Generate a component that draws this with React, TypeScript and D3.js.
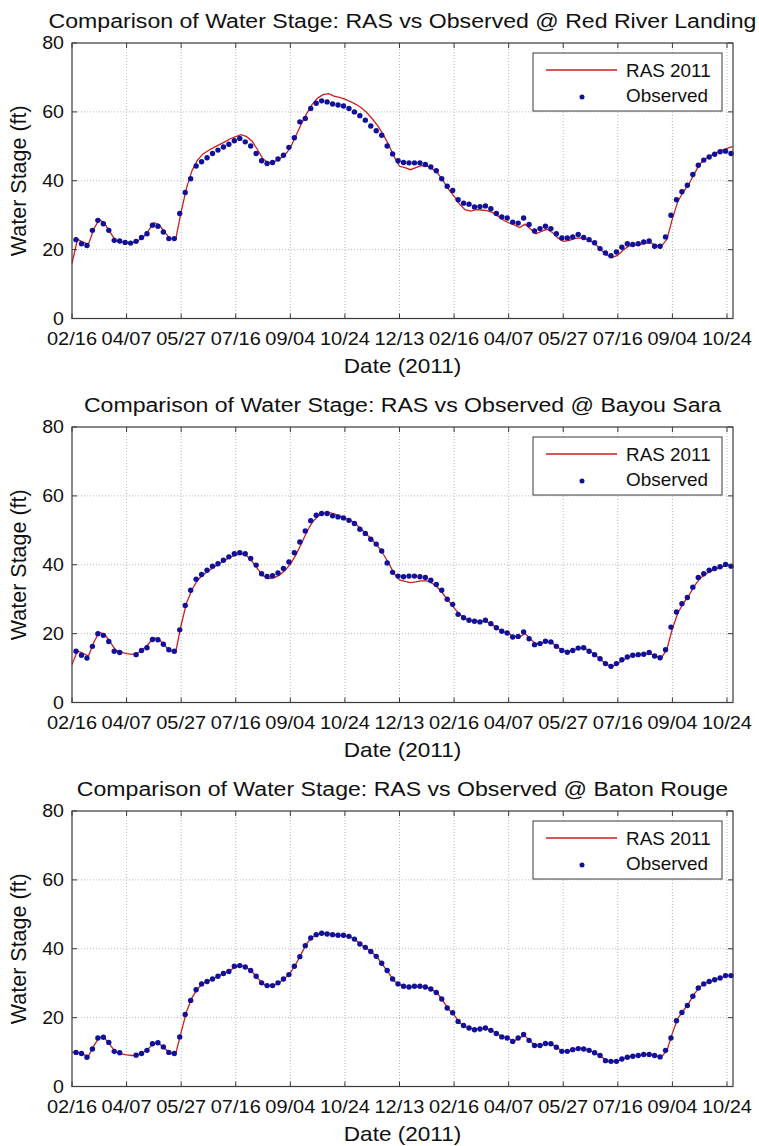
import React from "react";
import * as d3 from "d3";

// ---------- data ----------
const xTickDays = [0, 50, 100, 150, 200, 250, 300, 350, 400, 450, 500, 550, 600];
const xTickLabels = ["02/16", "04/07", "05/27", "07/16", "09/04", "10/24", "12/13", "02/16", "04/07", "05/27", "07/16", "09/04", "10/24"];
const yTicks = [0, 20, 40, 60, 80];
const xDomainEnd = 605.5;

// observed every 5 days starting day 3.7; RAS every 5 days starting day 0
const obsStartDay = 3.7;
const rasStartDay = 0;
const stepDays = 5;

const stationNames = ["Red River Landing", "Bayou Sara", "Baton Rouge"];

const obsRedRiver = [22.9, 21.7, 21.2, 25.6, 28.5, 27.5, 25.6, 22.7, 22.5, 22.1, 21.9, 22.4, 23.5, 24.6, 27.1, 26.8, 25.1, 23.2, 23.2, 30.5,
  36.6, 40.6, 44.3, 45.5, 46.7, 47.9, 48.9, 49.8, 50.6, 51.6, 52.3, 51.3, 50.1, 47.9, 45.8, 45.0, 45.3, 46.3, 47.4, 49.7,
  52.5, 57.1, 58.1, 61.0, 62.5, 63.2, 62.9, 62.3, 62.0, 61.7, 61.0, 60.0, 58.9, 57.6, 55.9, 54.5, 53.2, 50.1, 47.8, 45.8,
  45.3, 45.2, 45.2, 45.2, 44.7, 44.0, 42.9, 40.6, 38.4, 37.2, 34.5, 33.5, 33.2, 32.4, 32.5, 32.7, 31.9, 30.5, 29.5, 29.2,
  28.0, 27.7, 29.2, 27.3, 25.4, 26.1, 26.8, 26.1, 24.6, 23.4, 23.4, 23.7, 24.4, 23.5, 22.9, 22.0, 20.3, 19.0, 18.2, 19.3,
  20.7, 21.7, 21.5, 21.7, 22.2, 22.5, 21.0, 21.0, 23.7, 30.0, 34.5, 36.8, 38.7, 41.8, 44.5, 46.0, 46.9, 47.7, 48.4, 48.6, 47.9];
const rasRedRiver = [16.0, 23.0, 22.2, 21.5, 26.0, 28.8, 27.5, 25.0, 22.6, 22.2, 22.0, 22.0, 22.5, 23.5, 25.5, 27.8, 27.2, 25.0, 23.2, 23.0,
  31.0, 38.0, 43.0, 46.0, 47.8, 48.8, 49.7, 50.5, 51.3, 52.2, 52.8, 53.4, 52.8, 51.5, 49.0, 46.3, 45.2, 45.5, 46.3, 47.5,
  49.5, 53.0, 56.5, 59.5, 62.2, 64.0, 65.0, 65.3, 64.6, 64.2, 63.7, 63.0, 62.2, 61.2, 59.8, 58.0, 56.0, 53.5, 50.5, 47.0,
  44.2, 43.8, 43.2, 43.8, 44.4, 44.3, 43.5, 42.2, 40.0, 37.5, 35.5, 33.2, 31.6, 31.2, 31.6, 31.5, 31.3, 30.8, 29.8, 28.6,
  27.8, 27.2, 26.4, 27.4, 26.0, 24.6, 25.3, 25.9, 25.0, 23.4, 22.4, 22.6, 23.2, 23.4, 23.2, 22.5, 21.4, 19.8, 18.4, 17.7,
  18.4, 19.9, 21.0, 21.3, 21.5, 21.8, 22.0, 21.2, 21.0, 23.0, 29.0, 34.0, 36.8, 39.0, 42.0, 44.8, 46.3, 47.3, 48.1, 48.8,
  49.4, 49.9];

const obsBayouSara = [14.9, 13.7, 12.9, 16.3, 20.0, 19.5, 17.7, 14.9, 14.5, null, null, 13.9, 15.1, 15.9, 18.3, 18.2, 16.9, 15.3, 14.9, 21.1,
  28.2, 32.6, 35.8, 37.2, 38.4, 39.6, 40.3, 41.3, 42.3, 43.2, 43.5, 43.2, 41.8, 39.9, 37.4, 36.6, 36.8, 37.6, 38.9, 40.8,
  43.5, 46.6, 49.8, 52.8, 54.4, 54.9, 54.9, 54.2, 53.9, 53.6, 52.9, 52.0, 50.3, 49.1, 47.4, 46.0, 44.0, 40.5, 37.8, 36.7,
  36.5, 36.7, 36.7, 36.5, 36.3, 35.5, 34.3, 32.6, 30.0, 28.5, 25.6, 24.6, 23.9, 23.6, 23.4, 23.9, 22.9, 21.7, 20.7, 20.2,
  19.0, 19.2, 20.5, 18.5, 16.8, 17.1, 17.8, 17.6, 16.3, 15.1, 14.6, 15.1, 15.8, 15.9, 14.9, 13.9, 12.7, 11.3, 10.5, 11.3,
  12.4, 13.2, 13.7, 13.9, 14.0, 14.5, 13.5, 13.0, 15.3, 21.9, 26.3, 28.7, 30.5, 33.5, 36.3, 37.4, 38.4, 38.9, 39.4, 40.1, 39.6];
const rasBayouSara = [11.0, 15.0, 14.3, 13.5, 17.5, 20.4, 19.8, 17.5, 15.2, 14.6, 14.2, 14.0, 14.3, 15.3, 17.0, 18.8, 18.3, 16.5, 15.0, 14.7,
  22.5, 29.0, 32.8, 35.5, 37.0, 38.2, 39.3, 40.3, 41.3, 42.2, 42.8, 43.2, 42.6, 41.0, 38.8, 36.8, 36.0, 36.2, 37.0, 38.3,
  40.2, 42.8, 46.0, 49.5, 52.3, 54.0, 54.9, 55.2, 54.8, 54.2, 53.6, 52.9, 51.8, 50.3, 48.8, 47.2, 45.5, 43.2, 40.5, 37.5,
  35.6, 35.2, 34.8, 35.0, 35.3, 35.3, 34.6, 33.4, 31.5, 29.5, 27.5, 25.6, 24.4, 23.8, 23.6, 23.6, 23.5, 22.6, 21.5, 20.6,
  19.9, 19.2, 19.0, 20.0, 18.4, 17.0, 17.2, 17.7, 17.3, 16.0, 15.0, 14.8, 15.3, 15.8, 15.7, 14.8, 13.6, 12.3, 11.0, 10.5,
  11.3, 12.4, 13.2, 13.6, 13.9, 14.1, 14.2, 13.4, 13.0, 15.5, 21.5, 26.0, 28.8, 31.0, 33.8, 35.9, 37.2, 38.1, 38.8, 39.4,
  39.8, 40.0];

const obsBatonRouge = [9.9, 9.6, 8.5, 10.9, 14.1, 14.3, 12.8, 10.2, 9.8, null, null, 9.1, 9.6, 10.5, 12.4, 12.7, 11.5, 9.9, 9.6, 14.4,
  20.9, 25.0, 28.1, 29.8, 30.5, 31.2, 32.0, 32.8, 33.4, 34.9, 35.1, 34.7, 33.7, 32.0, 30.1, 29.3, 29.3, 30.1, 31.2, 32.5,
  34.9, 37.7, 40.9, 43.1, 44.1, 44.5, 44.3, 44.1, 43.9, 43.9, 43.6, 42.8, 41.4, 40.4, 39.2, 37.8, 35.8, 33.7, 31.2, 29.8,
  29.1, 28.9, 29.1, 29.1, 28.9, 28.3, 27.3, 25.4, 22.8, 21.4, 18.9, 17.7, 17.0, 16.5, 16.7, 17.0, 16.3, 15.4, 14.4, 14.1,
  13.1, 14.1, 15.1, 13.4, 11.9, 11.9, 12.5, 12.4, 11.4, 10.2, 10.2, 10.7, 11.0, 10.9, 10.5, 9.8, 9.0, 7.5, 7.3, 7.3,
  8.0, 8.5, 8.8, 9.0, 9.3, 9.3, 9.0, 8.6, 10.5, 14.1, 19.1, 21.5, 23.5, 26.2, 28.6, 29.8, 30.5, 31.0, 31.5, 32.2, 32.2];
const rasBatonRouge = [10.0, 9.8, 9.3, 8.8, 11.8, 14.3, 14.0, 12.0, 10.0, 9.5, 9.2, 9.0, 9.2, 9.8, 11.0, 12.6, 12.4, 11.0, 9.7, 9.5,
  15.8, 21.8, 25.8, 28.4, 29.9, 30.7, 31.4, 32.2, 33.0, 33.8, 34.7, 35.0, 34.5, 33.3, 31.5, 29.8, 29.2, 29.4, 30.2, 31.4,
  33.0, 35.5, 38.5, 41.5, 43.4, 44.2, 44.5, 44.3, 44.1, 43.9, 43.8, 43.4, 42.5, 41.1, 40.1, 38.9, 37.3, 35.2, 33.0, 30.7,
  29.6, 29.0, 28.9, 29.0, 29.0, 28.8, 28.1, 27.0, 24.8, 22.4, 20.8, 18.5, 17.4, 16.9, 16.6, 16.8, 16.9, 16.1, 15.2, 14.3,
  13.9, 13.2, 14.2, 14.7, 13.0, 11.9, 12.0, 12.5, 12.2, 11.1, 10.2, 10.3, 10.8, 11.1, 11.0, 10.3, 9.6, 8.6, 7.5, 7.3,
  7.4, 8.1, 8.6, 8.9, 9.1, 9.3, 9.3, 8.9, 8.6, 10.5, 15.5, 19.8, 22.0, 24.2, 26.8, 28.9, 30.0, 30.6, 31.1, 31.6,
  32.1, 32.3];

const obsSeries = [obsRedRiver, obsBayouSara, obsBatonRouge];
const rasSeries = [rasRedRiver, rasBayouSara, rasBatonRouge];

// ---------- layout ----------
const W = 759;
const H = 1146;
const plotLeft = 72;
const plotRight = 733;
const panelTops = [43, 427, 811];
const plotH = 275.5;
const FONT = "'Liberation Sans', Arial, Helvetica, sans-serif";
const RED = "#cc1e1e";
const BLUE = "#10109a";
const AXIS = "#3a3a3a";
const GRID = "#a8a8a8";

function SText({ x, y, size, sx = 1.08, anchor = "start", children, rotate = 0 }: any) {
  const tr = rotate
    ? `translate(${x},${y}) rotate(${rotate})`
    : `translate(${x},${y}) scale(${sx},1)`;
  return (
    <text transform={tr} fontSize={size} textAnchor={anchor} fontFamily={FONT} fill="#111">
      {children}
    </text>
  );
}

function Panel({ idx }: { idx: number }) {
  const top = panelTops[idx];
  const bottom = top + plotH;
  const x = d3.scaleLinear().domain([0, xDomainEnd]).range([plotLeft, plotRight]);
  const y = d3.scaleLinear().domain([0, 80]).range([bottom, top]);
  const obs = obsSeries[idx];
  const ras = rasSeries[idx];
  const line = d3
    .line<number>()
    .x((_, i) => x(rasStartDay + i * stepDays))
    .y((d) => y(d));
  const tickLen = 5;
  const cx = (plotLeft + plotRight) / 2;
  const legX = plotRight - 200;
  const legY = top + 10;
  return (
    <g>
      {/* grid */}
      {xTickDays.slice(1).map((d) => (
        <line key={"gx" + d} x1={x(d)} x2={x(d)} y1={top} y2={bottom} stroke={GRID} strokeWidth={0.8} strokeDasharray="1,2" />
      ))}
      {yTicks.slice(1, -1).map((v) => (
        <line key={"gy" + v} x1={plotLeft} x2={plotRight} y1={y(v)} y2={y(v)} stroke={GRID} strokeWidth={0.8} strokeDasharray="1,2" />
      ))}
      {/* data */}
      <path d={line(ras) || ""} fill="none" stroke={RED} strokeWidth={1.3} />
      {obs.map((v, i) =>
        v == null ? null : (
          <circle key={"o" + i} cx={x(obsStartDay + i * stepDays)} cy={y(v)} r={2.7} fill={BLUE} />
        )
      )}
      {/* box */}
      <rect x={plotLeft} y={top} width={plotRight - plotLeft} height={plotH} fill="none" stroke={AXIS} strokeWidth={1.2} />
      {/* ticks */}
      {xTickDays.map((d) => (
        <g key={"tx" + d}>
          <line x1={x(d)} x2={x(d)} y1={bottom} y2={bottom - tickLen} stroke={AXIS} strokeWidth={1} />
          <line x1={x(d)} x2={x(d)} y1={top} y2={top + tickLen} stroke={AXIS} strokeWidth={1} />
        </g>
      ))}
      {yTicks.map((v) => (
        <g key={"ty" + v}>
          <line x1={plotLeft} x2={plotLeft + tickLen} y1={y(v)} y2={y(v)} stroke={AXIS} strokeWidth={1} />
          <line x1={plotRight} x2={plotRight - tickLen} y1={y(v)} y2={y(v)} stroke={AXIS} strokeWidth={1} />
        </g>
      ))}
      {/* tick labels */}
      {xTickDays.map((d, i) => (
        <SText key={"lx" + d} x={x(d)} y={bottom + 26.5} size={18.5} sx={1.08} anchor="middle">
          {xTickLabels[i]}
        </SText>
      ))}
      {yTicks.map((v) => (
        <SText key={"ly" + v} x={plotLeft - 8} y={y(v) + 6.2} size={18.5} sx={1.06} anchor="end">
          {v}
        </SText>
      ))}
      {/* title & axis labels */}
      <SText x={cx} y={top - 15} size={21} sx={1.1} anchor="middle">
        {"Comparison of Water Stage: RAS vs Observed @ " + stationNames[idx]}
      </SText>
      <SText x={cx} y={bottom + 54} size={20.5} sx={1.1} anchor="middle">
        Date (2011)
      </SText>
      <SText x={26} y={(top + bottom) / 2} size={21.5} anchor="middle" rotate={-90}>
        Water Stage (ft)
      </SText>
      {/* legend */}
      <rect x={legX} y={legY} width={189} height={58} fill="#fff" stroke={AXIS} strokeWidth={1} />
      <line x1={legX + 13} x2={legX + 84} y1={legY + 17} y2={legY + 17} stroke={RED} strokeWidth={1.3} />
      <circle cx={legX + 49} cy={legY + 44} r={2.5} fill={BLUE} />
      <SText x={legX + 93} y={legY + 24} size={17.5} sx={1.08}>RAS 2011</SText>
      <SText x={legX + 93} y={legY + 49} size={17.5} sx={1.08}>Observed</SText>
    </g>
  );
}

export default function App() {
  return (
    <svg width={W} height={H} style={{ position: "absolute", left: 0, top: 0, background: "#fff" }}>
      <rect x={0} y={0} width={W} height={H} fill="#fff" />
      {[0, 1, 2].map((i) => (
        <Panel key={i} idx={i} />
      ))}
    </svg>
  );
}
